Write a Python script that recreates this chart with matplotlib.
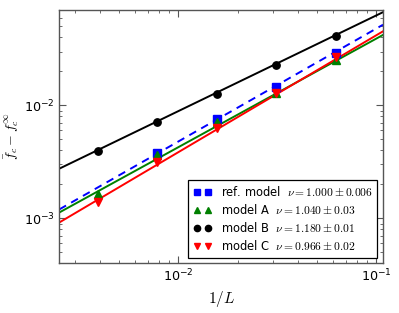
import numpy as np
import matplotlib
matplotlib.use('Agg')
import matplotlib.pyplot as plt

plt.rcParams['mathtext.fontset'] = 'cm'
plt.rcParams['font.family'] = 'DejaVu Sans'

# 1/L 값
inv_L = [1/256, 1/128, 1/64, 1/32, 1/16]

# 각 모델의 데이터
ref_x = [1/128, 1/64, 1/32, 1/16]
ref_y = [0.00376, 0.00752, 0.0147, 0.0294]
a_y = [0.00163, 0.00366, 0.00707, 0.0130, 0.0255]
b_y = [0.00394, 0.00707, 0.0125, 0.0226, 0.0408]
c_y = [0.00139, 0.00313, 0.00626, 0.01277, 0.0266]

# 피팅 결과: f = amp * x^(1/nu)
nus = [1.000, 1.040, 1.180, 0.966]
amps = [0.480, 0.358, 0.4416, 0.454]
labels = [r'ref. model  $\nu=1.000\pm0.006$',
          r'model A  $\nu=1.040\pm0.03$',
          r'model B  $\nu=1.180\pm0.01$',
          r'model C  $\nu=0.966\pm0.02$']

xlim = (0.0025, 0.108)
ylim = (4e-4, 7e-2)

fig = plt.figure(figsize=(3.99, 3.13), dpi=100)
ax = fig.add_axes([0.1486, 0.1588, 0.8114, 0.8093])

xf = np.logspace(np.log10(xlim[0]), np.log10(xlim[1]), 50)
styles = [('b', '--'), ('g', '-'), ('k', '-'), ('r', '-')]
for (c, ls), nu, amp in zip(styles, nus, amps):
    ax.plot(xf, amp * xf ** (1 / nu), color=c, ls=ls, lw=1.4,
            dashes=(4, 3) if ls == '--' else (None, None))

ax.plot(ref_x, ref_y, 's', color='b', ms=5.3, mec='b', label=labels[0])
ax.plot(inv_L, a_y, '^', color='g', ms=5.3, mec='g', label=labels[1])
ax.plot(inv_L, b_y, 'o', color='k', ms=5.3, mec='k', label=labels[2])
ax.plot(inv_L, c_y, 'v', color='r', ms=5.3, mec='r', label=labels[3])

ax.set_xscale('log')
ax.set_yscale('log')
ax.set_xlim(xlim)
ax.set_ylim(ylim)
ax.set_xlabel(r'$1/L$', fontsize=11, labelpad=3)
ax.set_ylabel(r'$\bar{f}_c - f_c^{\infty}$', fontsize=10, labelpad=2)

for s in ax.spines.values():
    s.set_color('#555555')
    s.set_linewidth(1.0)
ax.tick_params(which='both', direction='in', top=True, right=True,
               colors='#555555', labelcolor='black', labelsize=9.2)
ax.tick_params(which='major', length=5)
ax.tick_params(which='minor', length=2.5)

leg = ax.legend(loc='lower right', numpoints=2, fontsize=8.3,
                fancybox=False, framealpha=1, edgecolor='black',
                handlelength=1.6, handletextpad=0.8, labelspacing=0.35,
                borderpad=0.4, markerscale=0.85)
leg.get_frame().set_linewidth(0.9)

fig.savefig('out.png', dpi=100)
